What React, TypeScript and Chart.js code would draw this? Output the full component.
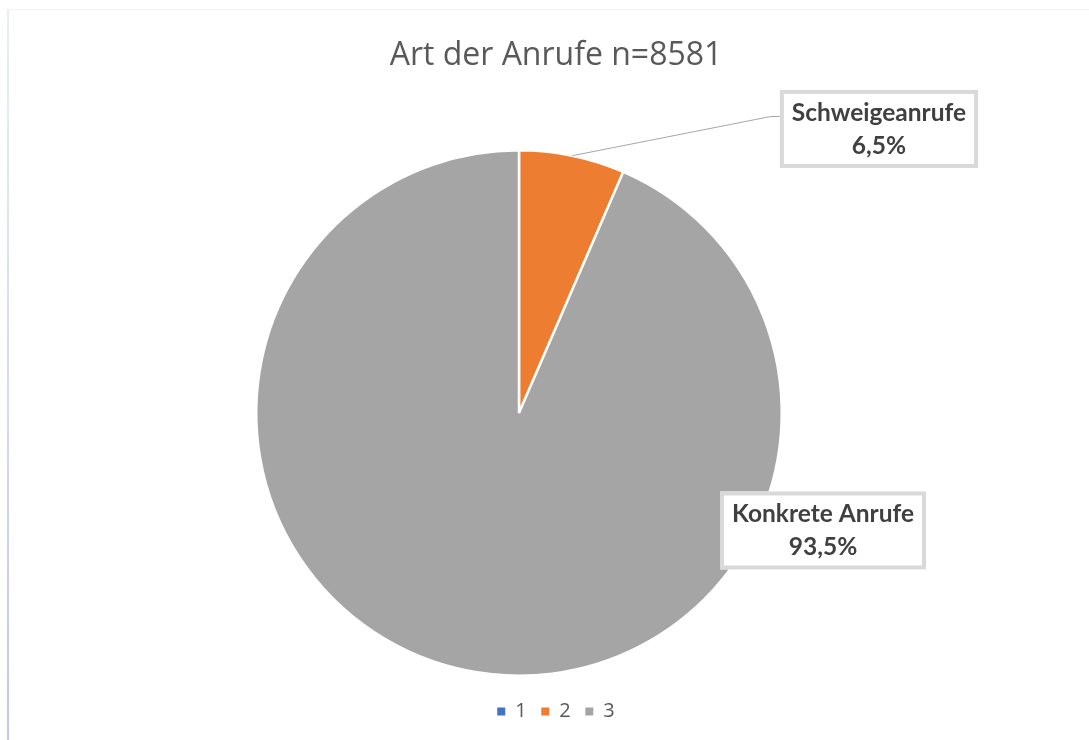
import React, { useEffect, useRef } from "react";
import { Chart, registerables } from "chart.js";

Chart.register(...registerables);

const titleText = "Art der Anrufe n=8581";
const categories = ["1", "2", "3"];
const values = [0, 6.5, 93.5];
const sliceNames = ["", "Schweigeanrufe", "Konkrete Anrufe"];
const sliceColors = ["#4472C4", "#ED7D31", "#A5A5A5"];

const FONT = "'Open Sans'";
const LABEL_FONT = "Lato";

const fmtPct = (v: number, total: number) =>
  ((v / total) * 100).toFixed(1).replace(".", ",") + "%";

const labelPlugin = {
  id: "boxLabels",
  afterDatasetsDraw(chart: any, _args: any, opts: any) {
    const meta = chart.getDatasetMeta(0);
    const ctx = chart.ctx as CanvasRenderingContext2D;
    const data = chart.data.datasets[0].data as number[];
    const total = data.reduce((a, b) => a + b, 0);
    meta.data.forEach((arc: any, i: number) => {
      const place = opts.places[i];
      if (!place || !data[i]) return;
      const p = arc.getProps(["x", "y", "outerRadius", "startAngle", "endAngle"], true);
      const lines = [sliceNames[i], fmtPct(data[i], total)];
      ctx.save();
      ctx.font = `bold ${opts.fontSize}px ${LABEL_FONT}`;
      const tw = Math.max(...lines.map((l) => ctx.measureText(l).width));
      const w = tw + opts.padX * 2;
      const h = opts.boxHeight;
      const cx = p.x + place.dx * p.outerRadius;
      const cy = p.y + place.dy * p.outerRadius;
      const left = cx - w / 2;
      const top = cy - h / 2;
      if (place.leader) {
        const mid = (p.startAngle + p.endAngle) / 2;
        const sx = p.x + Math.cos(mid) * p.outerRadius;
        const sy = p.y + Math.sin(mid) * p.outerRadius;
        const ly = cy - h * 0.16;
        ctx.strokeStyle = "#A6A6A6";
        ctx.lineWidth = 1;
        ctx.beginPath();
        ctx.moveTo(sx, sy);
        ctx.lineTo(left - 9, ly);
        ctx.lineTo(left, ly);
        ctx.stroke();
      }
      ctx.fillStyle = "#FFFFFF";
      ctx.fillRect(left, top, w, h);
      ctx.strokeStyle = "#D9D9D9";
      ctx.lineWidth = opts.border;
      ctx.strokeRect(left + opts.border / 2, top + opts.border / 2, w - opts.border, h - opts.border);
      ctx.fillStyle = "#404040";
      ctx.textAlign = "center";
      ctx.textBaseline = "middle";
      ctx.fillText(lines[0], cx, cy - opts.lineGap / 2 + opts.textDy);
      ctx.fillText(lines[1], cx, cy + opts.lineGap / 2 + opts.textDy);
      ctx.restore();
    });
  },
};

export default function App() {
  const ref = useRef<HTMLCanvasElement>(null);
  useEffect(() => {
    const doughnutGen = (Chart as any).overrides.doughnut.plugins.legend.labels.generateLabels;
    const chart = new Chart(ref.current as HTMLCanvasElement, {
      type: "pie",
      data: {
        labels: categories,
        datasets: [
          {
            data: values,
            backgroundColor: sliceColors,
            borderColor: "#FFFFFF",
            borderWidth: 2.5,
          },
        ],
      },
      options: {
        responsive: false,
        animation: false,
        layout: { padding: { left: 255, right: 232, top: 0, bottom: 8.6 } },
        plugins: {
          title: {
            display: true,
            text: titleText,
            color: "#595959",
            font: { family: FONT, size: 32, weight: "normal", lineHeight: 1.2 },
            padding: { top: 36.3, bottom: 64.5 },
          },
          subtitle: {
            display: true,
            position: "right",
            text: "",
            fullSize: false,
            font: { size: 10, lineHeight: 1 },
            padding: { top: 0, bottom: 64 },
          },
          legend: {
            position: "bottom",
            labels: {
              boxWidth: 8,
              boxHeight: 8,
              padding: 14.6,
              color: "#595959",
              font: { family: FONT, size: 20 },
              generateLabels: (c: any) =>
                doughnutGen(c).map((it: any) => ({ ...it, lineWidth: 0, strokeStyle: "rgba(0,0,0,0)" })),
            },
          },
          tooltip: { enabled: false },
          boxLabels: {
            fontSize: 24.5,
            padX: 12,
            boxHeight: 78,
            border: 4,
            lineGap: 33,
            textDy: 0.5,
            places: [null, { dx: 1.37, dy: -1.081, leader: true }, { dx: 1.157, dy: 0.447, leader: false }],
          },
        } as any,
      },
      plugins: [labelPlugin as any],
    });
    return () => chart.destroy();
  }, []);
  return (
    <div style={{ position: "fixed", left: 0, top: 0, width: 1089, height: 740, overflow: "hidden", background: "#fff" }}>
      <div style={{ position: "absolute", left: 7, top: 9, width: 2, height: 731, background: "linear-gradient(#e9eef8, #bccbea)" }} />
      <div style={{ position: "absolute", left: 7, top: 9, right: 0, height: 1, background: "#eef1f8" }} />
      <canvas ref={ref} width={1089} height={740} style={{ position: "absolute", left: 0, top: 0, width: 1089, height: 740 }} />
    </div>
  );
}
